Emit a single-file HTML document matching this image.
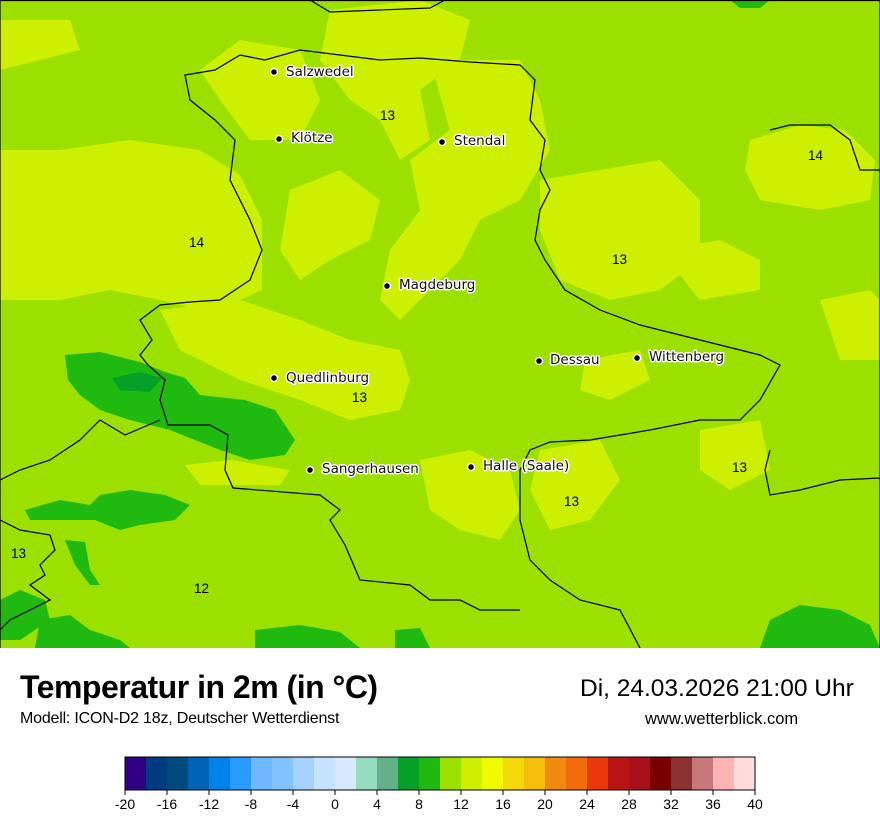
<!DOCTYPE html>
<html><head><meta charset="utf-8"><style>
html,body{margin:0;padding:0;background:#fff;width:880px;height:830px;overflow:hidden;font-family:"Liberation Sans",sans-serif}
.t{position:absolute;white-space:nowrap}
</style></head><body>
<svg class="t" style="left:0;top:0" width="880" height="648" viewBox="0 0 880 648">
<rect x="0" y="0" width="880" height="648" fill="#9ce000"/>
<g fill="#cdf000">
<path d="M0 150 L60 150 L130 140 L200 150 L240 175 L262 220 L262 290 L240 300 L200 310 L160 300 L110 290 L60 300 L0 300 Z"/>
<path d="M0 20 L70 20 L80 50 L40 60 L0 70 Z"/>
<path d="M200 70 L240 40 L300 50 L320 100 L300 140 L250 140 L220 100 Z"/>
<path d="M330 10 L420 0 L470 20 L460 60 L420 90 L430 140 L400 160 L380 120 L350 100 L320 60 Z"/>
<path d="M430 60 L520 60 L540 100 L550 150 L520 200 L480 220 L460 260 L430 290 L400 320 L380 300 L390 250 L420 210 L410 160 L450 130 Z"/>
<path d="M290 190 L340 170 L380 200 L370 240 L330 260 L300 280 L280 250 Z"/>
<path d="M160 310 L240 300 L300 320 L350 340 L400 350 L410 380 L400 410 L350 420 L300 400 L240 380 L180 350 Z"/>
<path d="M540 180 L600 170 L660 160 L700 200 L700 260 L660 290 L610 300 L560 280 L540 230 Z"/>
<path d="M750 140 L800 125 L845 130 L875 160 L870 200 L820 210 L760 200 L745 170 Z"/>
<path d="M660 250 L720 240 L760 260 L760 290 L700 300 Z"/>
<path d="M820 300 L870 290 L880 300 L880 360 L840 360 Z"/>
<path d="M420 460 L470 450 L510 470 L520 510 L500 540 L460 530 L430 510 Z"/>
<path d="M540 450 L600 440 L620 480 L590 520 L550 530 L530 490 Z"/>
<path d="M700 430 L760 420 L770 470 L730 490 L700 470 Z"/>
<path d="M585 360 L640 350 L650 380 L610 400 L580 390 Z"/>
<path d="M185 465 L230 460 L290 470 L280 485 L200 485 Z"/>
</g>
<g fill="#20b910">
<path d="M65 355 L100 352 L140 362 L165 372 L185 378 L200 395 L245 400 L275 410 L295 440 L285 455 L250 460 L220 450 L170 430 L130 420 L100 410 L80 395 L68 380 Z"/>
<path d="M25 510 L60 500 L90 505 L100 495 L130 490 L165 495 L190 505 L175 520 L140 525 L120 530 L95 520 L60 520 L30 520 Z"/>
<path d="M65 540 L85 542 L90 570 L100 585 L90 585 L75 565 Z"/>
<path d="M0 600 L20 590 L45 600 L50 620 L20 640 L0 640 Z"/>
<path d="M40 620 L70 615 L90 630 L120 640 L130 648 L35 648 Z"/>
<path d="M255 630 L300 625 L340 632 L360 648 L255 648 Z"/>
<path d="M395 630 L420 628 L430 648 L395 648 Z"/>
<path d="M770 620 L800 605 L840 610 L870 625 L880 648 L760 648 Z"/>
<path d="M730 0 L770 0 L760 8 L740 8 Z"/>
</g>
<path d="M112 378 L140 372 L162 378 L150 392 L120 390 Z" fill="#06a028"/>
<g fill="none" stroke="#000" stroke-width="1.2">
<path d="M0 0 V648 M880 0 V648 M0 0.5 H880"/>
<path d="M310 0 L330 12 L380 10 L430 8 L445 0"/>
<path d="M240 55 L265 60 L300 50 L340 55 L380 60 L420 58 L470 62 L520 65 L535 80 L530 120 L545 140 L540 170 L550 190 L540 210 L535 240 L545 260 L565 290 L600 310 L640 325 L700 340 L760 355 L780 365 L760 400 L740 420 L700 420 L650 430 L590 440 L550 442 L530 450 L520 470 L520 520 L530 560 L550 580 L580 600 L620 610 L640 648"/>
<path d="M240 55 L215 70 L185 75 L190 100 L215 120 L235 140 L230 180 L250 220 L262 250 L250 280 L220 300 L190 302 L160 305 L140 320 L152 340 L140 355 L148 365 L165 380 L160 400 L168 425 L210 425 L228 435 L225 470 L233 488 L320 495 L340 510 L330 520 L345 545 L360 580 L410 585 L430 600 L460 600 L480 610 L520 610"/>
<path d="M0 480 L20 470 L50 460 L80 440 L100 420 L125 435 L160 420"/>
<path d="M0 520 L20 530 L50 535 L55 550 L40 565 L45 575 L30 585 L50 600 L30 610 L10 620 L0 630"/>
<path d="M770 450 L765 470 L770 495 L800 490 L840 480 L880 478"/>
<path d="M770 130 L790 125 L830 125 L850 140 L860 170 L880 170"/>
</g>
<g font-size="13.5" fill="#000">
<text x="380" y="120">13</text><text x="808" y="160">14</text><text x="189" y="247">14</text>
<text x="612" y="264">13</text><text x="352" y="402">13</text><text x="732" y="472">13</text>
<text x="564" y="506">13</text><text x="11" y="558">13</text><text x="194" y="593">12</text>
</g>
<g font-family="DejaVu Sans,sans-serif" font-size="13.5" fill="#111" stroke="#fff" stroke-width="3" paint-order="stroke" stroke-linejoin="round">
<text x="286" y="76">Salzwedel</text><text x="291" y="142">Klötze</text><text x="454" y="145">Stendal</text>
<text x="399" y="289">Magdeburg</text><text x="550" y="364">Dessau</text><text x="649" y="361">Wittenberg</text>
<text x="286" y="382">Quedlinburg</text><text x="322" y="473">Sangerhausen</text><text x="483" y="470">Halle (Saale)</text>
</g>
<g fill="#000" stroke="#fff" stroke-width="1.5">
<circle cx="274" cy="72" r="3.5"/><circle cx="279" cy="139" r="3.5"/><circle cx="442" cy="142" r="3.5"/>
<circle cx="387" cy="286" r="3.5"/><circle cx="539" cy="361" r="3.5"/><circle cx="637" cy="358" r="3.5"/>
<circle cx="274" cy="378" r="3.5"/><circle cx="310" cy="470" r="3.5"/><circle cx="471" cy="467" r="3.5"/>
</g>
</svg>
<div class="t" style="left:20px;top:669px;font-size:32px;font-weight:bold;letter-spacing:-0.5px">Temperatur in 2m (in °C)</div>
<div class="t" style="left:20px;top:710px;font-size:16px;letter-spacing:-0.2px">Modell: ICON-D2 18z, Deutscher Wetterdienst</div>
<div class="t" style="left:580px;top:675px;font-size:24.5px">Di, 24.03.2026 21:00 Uhr</div>
<div class="t" style="left:645px;top:710px;font-size:16.5px">www.wetterblick.com</div>
<svg class="t" style="left:110px;top:750px" width="670" height="70">
<g transform="translate(15,7)">
<rect x="0" width="21" height="33" fill="#320082"/><rect x="21" width="21" height="33" fill="#003a80"/><rect x="42" width="21" height="33" fill="#004a80"/><rect x="63" width="21" height="33" fill="#0064b4"/><rect x="84" width="21" height="33" fill="#0082ec"/><rect x="105" width="21" height="33" fill="#289bff"/><rect x="126" width="21" height="33" fill="#6eb8ff"/><rect x="147" width="21" height="33" fill="#82c3ff"/><rect x="168" width="21" height="33" fill="#a6d2ff"/><rect x="189" width="21" height="33" fill="#c6e2ff"/><rect x="210" width="21" height="33" fill="#d8e9ff"/><rect x="231" width="21" height="33" fill="#96dcbe"/><rect x="252" width="21" height="33" fill="#64b08a"/><rect x="273" width="21" height="33" fill="#06a028"/><rect x="294" width="21" height="33" fill="#20b910"/><rect x="315" width="21" height="33" fill="#9ce000"/><rect x="336" width="21" height="33" fill="#cdf000"/><rect x="357" width="21" height="33" fill="#f0fa00"/><rect x="378" width="21" height="33" fill="#f4d80a"/><rect x="399" width="21" height="33" fill="#f4be0a"/><rect x="420" width="21" height="33" fill="#f28a10"/><rect x="441" width="21" height="33" fill="#f26c0c"/><rect x="462" width="21" height="33" fill="#e8380c"/><rect x="483" width="21" height="33" fill="#b81414"/><rect x="504" width="21" height="33" fill="#a8101c"/><rect x="525" width="21" height="33" fill="#780000"/><rect x="546" width="21" height="33" fill="#8c3232"/><rect x="567" width="21" height="33" fill="#c87878"/><rect x="588" width="21" height="33" fill="#ffb4b4"/><rect x="609" width="21" height="33" fill="#ffdcdc"/>
<rect x="0" width="630" height="33" fill="none" stroke="#000" stroke-width="1"/>
<g stroke="#000"><path d="M0 33v5M42 33v5M84 33v5M126 33v5M168 33v5M210 33v5M252 33v5M294 33v5M336 33v5M378 33v5M420 33v5M462 33v5M504 33v5M546 33v5M588 33v5M630 33v5"/></g>
<g font-size="14" text-anchor="middle" fill="#000">
<text x="0" y="52">-20</text><text x="42" y="52">-16</text><text x="84" y="52">-12</text><text x="126" y="52">-8</text><text x="168" y="52">-4</text><text x="210" y="52">0</text><text x="252" y="52">4</text><text x="294" y="52">8</text><text x="336" y="52">12</text><text x="378" y="52">16</text><text x="420" y="52">20</text><text x="462" y="52">24</text><text x="504" y="52">28</text><text x="546" y="52">32</text><text x="588" y="52">36</text><text x="630" y="52">40</text>
</g></g></svg>
</body></html>
